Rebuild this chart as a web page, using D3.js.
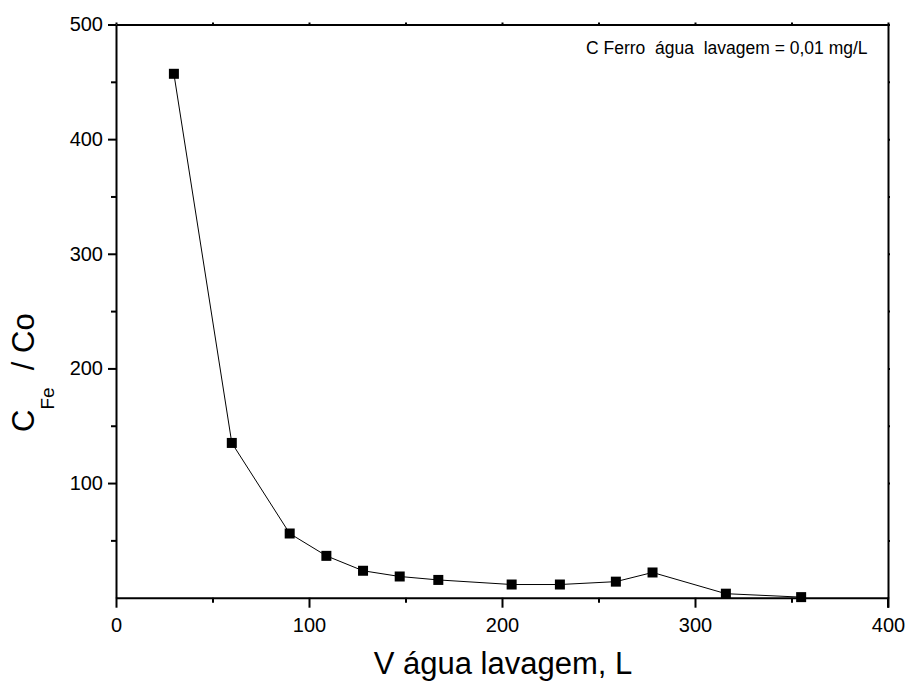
<!DOCTYPE html>
<html>
<head>
<meta charset="utf-8">
<script src="https://cdn.jsdelivr.net/npm/d3@7"></script>
<style>
  body { margin: 0; background: #fff; }
  text { font-family: "Liberation Sans", Arial, sans-serif; fill: #000; }
</style>
</head>
<body>
<svg id="chart" width="909" height="689"></svg>
<script>
const volume = [30, 60, 90, 109, 128, 147, 167, 205, 230, 259, 278, 316, 355];
const ratio  = [457, 135, 56, 36.5, 23.5, 18.5, 15.5, 11.5, 11.5, 14, 22, 3.5, 0.5];
const xMajorTicks = [0, 100, 200, 300, 400];
const xMinorTicks = [50, 150, 250, 350];
const yMajorTicks = [100, 200, 300, 400, 500];
const yMinorTicks = [50, 150, 250, 350, 450];
const annotation = "C Ferro  água  lavagem = 0,01 mg/L";
const xTitle = "V água lavagem, L";

const svg = d3.select("#chart");
const L = 116, R = 888, T = 24.5, B = 597.7;
const x = d3.scaleLinear().domain([0, 400]).range([L, R]);
const y = d3.scaleLinear().domain([0, 500]).range([B, T]);

function styleAxis(g, fontSize) {
  g.selectAll("path.domain").attr("stroke", "#000").attr("stroke-width", 2);
  g.selectAll(".tick line").attr("stroke", "#000").attr("stroke-width", 2);
  g.selectAll(".tick text").style("font-size", fontSize + "px").style("font-family", "Liberation Sans, Arial, sans-serif").attr("fill", "#000");
}

// bottom axis
const gB = svg.append("g").attr("transform", `translate(0,${B})`)
  .call(d3.axisBottom(x).tickValues(xMajorTicks).tickSize(10).tickPadding(10).tickSizeOuter(0).tickFormat(d3.format("d")));
styleAxis(gB, 20);
svg.append("g").attr("transform", `translate(0,${B})`)
  .call(d3.axisBottom(x).tickValues(xMinorTicks).tickSize(5).tickFormat(""))
  .call(g => { g.select("path.domain").remove(); styleAxis(g, 20); });

// left axis
const gL = svg.append("g").attr("transform", `translate(${L},0)`)
  .call(d3.axisLeft(y).tickValues(yMajorTicks).tickSize(8).tickPadding(5).tickSizeOuter(0).tickFormat(d3.format("d")));
styleAxis(gL, 20);
svg.append("g").attr("transform", `translate(${L},0)`)
  .call(d3.axisLeft(y).tickValues(yMinorTicks).tickSize(5).tickFormat(""))
  .call(g => { g.select("path.domain").remove(); styleAxis(g, 20); });

// top axis
svg.append("g").attr("transform", `translate(0,${T})`)
  .call(d3.axisTop(x).tickValues(xMajorTicks.concat(xMinorTicks)).tickSize(2).tickSizeOuter(0).tickFormat(""))
  .call(g => styleAxis(g, 20));
// right axis
svg.append("g").attr("transform", `translate(${R},0)`)
  .call(d3.axisRight(y).tickValues(yMajorTicks.concat(yMinorTicks)).tickSize(2).tickSizeOuter(0).tickFormat(""))
  .call(g => styleAxis(g, 20));
// right axis extension down to 0 tick
svg.append("line").attr("x1", R).attr("x2", R).attr("y1", y(0)).attr("y2", y(0) + 10)
  .attr("stroke", "#000").attr("stroke-width", 2);

// line
const line = d3.line().x((d, i) => x(volume[i])).y(d => y(d));
svg.append("path").datum(ratio).attr("d", line)
  .attr("fill", "none").attr("stroke", "#000").attr("stroke-width", 1);

// markers
const ms = 10;
svg.append("g").selectAll("rect").data(ratio).join("rect")
  .attr("x", (d, i) => x(volume[i]) - ms / 2)
  .attr("y", d => y(d) - ms / 2)
  .attr("width", ms).attr("height", ms)
  .attr("fill", "#000");

// annotation
svg.append("text").attr("x", 586).attr("y", 54)
  .style("font-size", "17.5px").attr("xml:space", "preserve").style("white-space", "pre")
  .text(annotation);

// x title
svg.append("text").attr("x", 503).attr("y", 674).attr("text-anchor", "middle")
  .style("font-size", "31px").text(xTitle);

// y title
const yt = svg.append("text").attr("transform", "translate(34,432) rotate(-90)")
  .style("font-size", "31px").attr("text-anchor", "start");
yt.append("tspan").text("C");
yt.append("tspan").attr("dy", 20).style("font-size", "19px").text("Fe");
yt.append("tspan").attr("dy", -20).attr("xml:space", "preserve").style("white-space", "pre").text("  / Co");
</script>
</body>
</html>
